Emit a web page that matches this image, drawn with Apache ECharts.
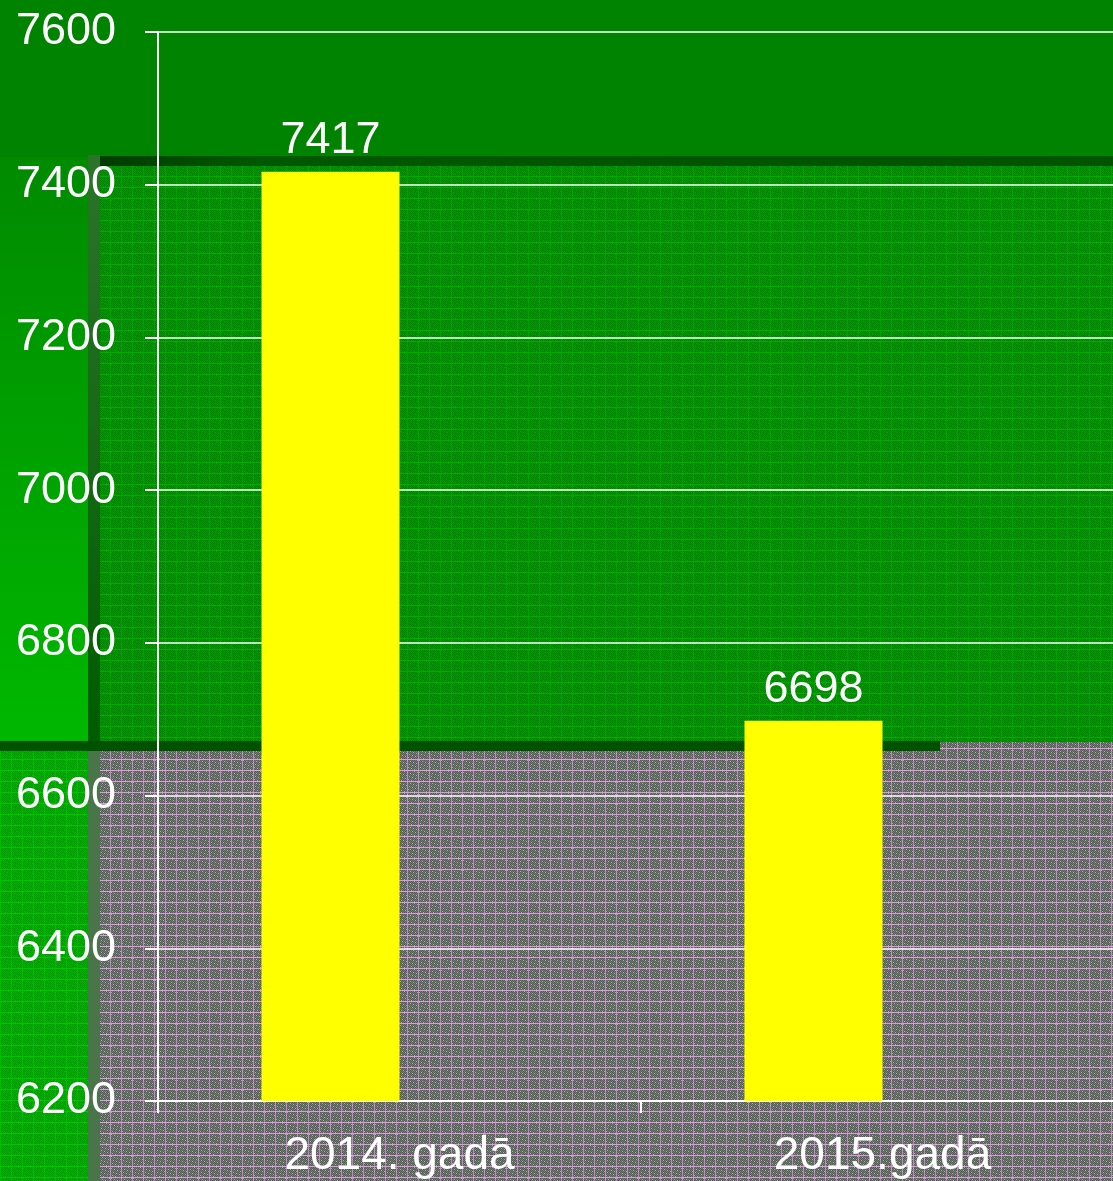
<!DOCTYPE html>
<html>
<head>
<meta charset="utf-8">
<script src="https://cdn.jsdelivr.net/npm/echarts@6/dist/echarts.min.js"></script>
<style>
html,body{margin:0;padding:0;background:#008400;overflow:hidden;width:1113px;height:1181px;}
#c{width:1130px;height:1181px;}
</style>
</head>
<body>
<div id="c"></div>
<script>
// ---- data ----
var categories = ['2014. gadā', '2015.gadā'];
var values = [7417, 6698];
var yTicks = [6200, 6400, 6600, 6800, 7000, 7200, 7400, 7600];

// ---- decorative texture patterns ----
function makePattern(base, a, b, line, step, vAlpha) {
  var c = document.createElement('canvas');
  c.width = step; c.height = step;
  var g = c.getContext('2d');
  g.fillStyle = base; g.fillRect(0, 0, step, step);
  for (var y = 0; y < step; y++) {
    for (var x = 0; x < step; x++) {
      if ((x + y) % 2 === 0) { g.fillStyle = a; g.fillRect(x, y, 1, 1); }
      else if ((x * 3 + y) % 5 === 0) { g.fillStyle = b; g.fillRect(x, y, 1, 1); }
    }
  }
  g.fillStyle = line;
  g.fillRect(0, 0, step, 1);
  g.fillRect(0, Math.floor(step / 2), step, 1);
  g.globalAlpha = vAlpha;
  g.fillRect(0, 0, 1, step);
  g.fillRect(Math.floor(step / 2), 0, 1, step);
  return c;
}
var grayPat = makePattern('#7c767c', '#46664a', '#c8a0c8', '#e098e0', 22, 0.7);
var greenPat = makePattern('#009600', '#008200', '#00aa00', '#00ac00', 22, 0.6);
var brightPat = makePattern('#00ae00', '#009a00', '#00c200', '#00c600', 22, 0.6);

var chart = echarts.init(document.getElementById('c'), null, {renderer: 'canvas'});
var font = 'Liberation Sans, Arial, sans-serif';

var option = {
  backgroundColor: 'transparent',
  animation: false,
  graphic: [
    {type: 'rect', z: -100, silent: true, shape: {x: 0, y: 0, width: 1130, height: 160}, style: {fill: '#008400'}},
    {type: 'rect', z: -100, silent: true, shape: {x: 0, y: 157, width: 88, height: 585},
      style: {fill: new echarts.graphic.LinearGradient(0, 0, 0, 1, [{offset: 0, color: '#008a00'}, {offset: 1, color: '#00b800'}])}},
    {type: 'rect', z: -100, silent: true, shape: {x: 100, y: 166, width: 1030, height: 577}, style: {fill: {image: greenPat, repeat: 'repeat'}}},
    {type: 'rect', z: -100, silent: true, shape: {x: 100, y: 750, width: 1030, height: 431}, style: {fill: {image: grayPat, repeat: 'repeat'}}},
    {type: 'rect', z: -100, silent: true, shape: {x: 940, y: 742, width: 190, height: 10}, style: {fill: {image: grayPat, repeat: 'repeat'}}},
    {type: 'rect', z: -100, silent: true, shape: {x: 0, y: 750, width: 88, height: 431}, style: {fill: {image: brightPat, repeat: 'repeat'}}},
    {type: 'rect', z: -99, silent: true, shape: {x: 88, y: 155, width: 12, height: 587},
      style: {fill: new echarts.graphic.LinearGradient(0, 0, 0, 1, [{offset: 0, color: '#2c742c'}, {offset: 1, color: '#005c00'}])}},
    {type: 'rect', z: -99, silent: true, shape: {x: 88, y: 750, width: 12, height: 431}, style: {fill: '#4a744a'}},
    {type: 'rect', z: -98, silent: true, shape: {x: 100, y: 156, width: 1030, height: 10},
      style: {fill: new echarts.graphic.LinearGradient(0, 0, 1, 0, [{offset: 0, color: '#003c00'}, {offset: 0.15, color: '#005800'}, {offset: 1, color: '#005400'}])}},
    {type: 'rect', z: -98, silent: true, shape: {x: 0, y: 741, width: 940, height: 10}, style: {fill: '#005200'}}
  ],
  grid: {left: 158, top: 32, width: 966, height: 1069, containLabel: false},
  xAxis: {
    type: 'category',
    data: categories,
    axisLine: {show: true, lineStyle: {color: '#ffffff', width: 2}},
    axisTick: {show: true, length: 12, lineStyle: {color: '#ffffff', width: 2}},
    axisLabel: {color: '#ffffff', fontSize: 46, fontFamily: font, margin: 32},
    splitLine: {show: false}
  },
  yAxis: {
    type: 'value',
    min: 6200, max: 7600, interval: 200,
    axisLine: {show: true, lineStyle: {color: '#ffffff', width: 2}},
    axisTick: {show: true, length: 13, lineStyle: {color: '#ffffff', width: 2}},
    axisLabel: {color: '#ffffff', fontSize: 45, fontFamily: font, margin: 42,
      formatter: function (v) { return yTicks.indexOf(v) >= 0 ? String(v) : ''; }},
    splitLine: {show: true, lineStyle: {color: '#ffffff', width: 1.5}}
  },
  series: [
    {
      type: 'bar',
      data: values,
      barWidth: 138,
      barGap: '0%',
      itemStyle: {color: '#ffff00'},
      label: {show: true, position: 'top', distance: 9, color: '#ffffff', fontSize: 45, fontFamily: font}
    },
    {
      type: 'bar',
      data: ['-', '-'],
      barWidth: 138,
      barGap: '0%',
      itemStyle: {color: '#ffff00'}
    }
  ]
};
chart.setOption(option);
</script>
</body>
</html>
